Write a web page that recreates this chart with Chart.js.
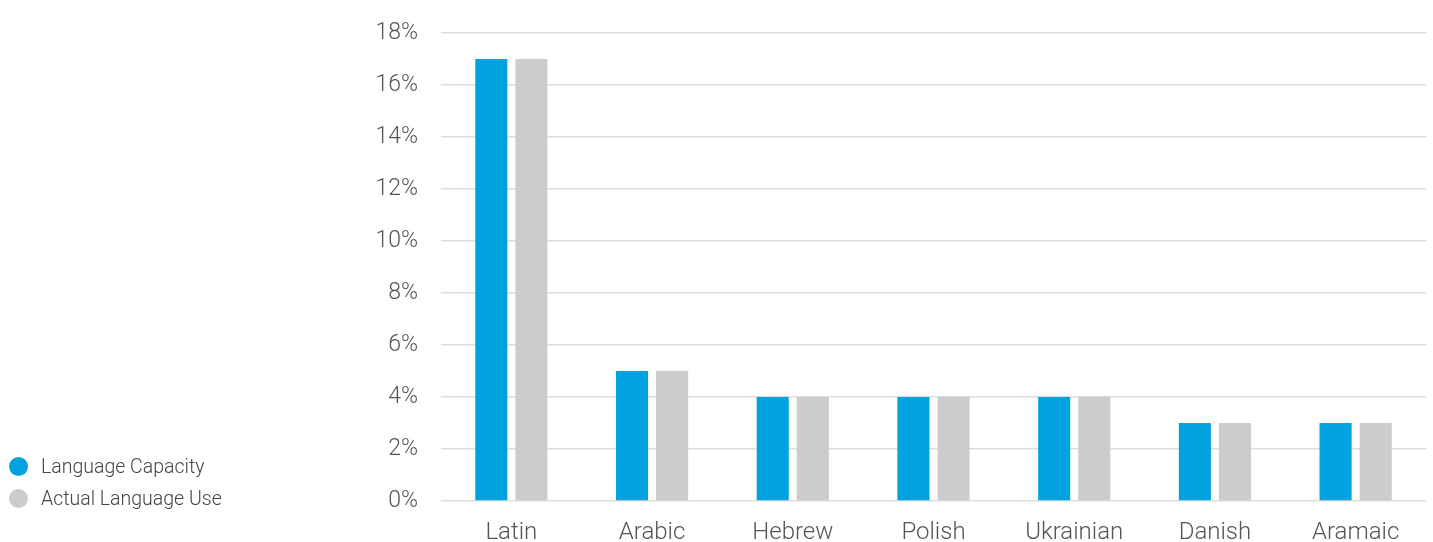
<!DOCTYPE html>
<html>
<head>
<meta charset="utf-8">
<script src="https://cdn.jsdelivr.net/npm/chart.js@4"></script>
<style>
    html, body { margin: 0; padding: 0; background: #fff; }
    #wrap { position: relative; width: 1433px; height: 542px; }
    #legend { position: absolute; left: 9px; top: 450px; font-family: Roboto, "Open Sans", sans-serif; font-weight: 300; font-size: 19.5px; color: #444; }
    #legend div { display: flex; align-items: center; height: 32px; }
    #legend span.dot { width: 19px; height: 19px; border-radius: 50%; margin-right: 13px; display: inline-block; }
</style>
</head>
<body>
<div id="wrap">
    <canvas id="langChart" width="1433" height="542"></canvas>
    <div id="legend"></div>
</div>
<script>
// values
const languages = ['Latin', 'Arabic', 'Hebrew', 'Polish', 'Ukrainian', 'Danish', 'Aramaic'];
const capacity = [17, 5, 4, 4, 4, 3, 3];
const actualUse = [17, 5, 4, 4, 4, 3, 3];
const seriesNames = ['Language Capacity', 'Actual Language Use'];
const seriesColours = ['#00A3E0', '#CCCCCC'];

const fontFamily = 'Roboto, "Open Sans", sans-serif';

// legend kept outside the canvas so it can sit bottom-left
const legendDiv = document.getElementById('legend');
seriesNames.forEach((name, i) => {
    const row = document.createElement('div');
    row.innerHTML = `<span class="dot" style="background:${seriesColours[i]}"></span>${name}`;
    legendDiv.appendChild(row);
});

const ctx = document.getElementById('langChart').getContext('2d');
new Chart(ctx, {
    type: 'bar',
    data: {
        labels: languages,
        datasets: [
            {
                label: seriesNames[0],
                data: capacity,
                backgroundColor: seriesColours[0],
                categoryPercentage: 0.57,
                barPercentage: 0.8,
            },
            {
                label: seriesNames[1],
                data: actualUse,
                backgroundColor: seriesColours[1],
                categoryPercentage: 0.57,
                barPercentage: 0.8,
            },
        ],
    },
    options: {
        responsive: false,
        animation: false,
        layout: {
            padding: { top: 33, right: 7, bottom: 0, left: 0 },
        },
        scales: {
            x: {
                grid: { display: false },
                border: { display: false },
                ticks: {
                    color: '#555',
                    padding: 10,
                    font: { family: fontFamily, size: 24, weight: 300 },
                },
                afterFit: (scale) => { scale.height = 41; },
            },
            y: {
                min: 0,
                max: 18,
                border: { display: false },
                grid: { color: '#DDDDDD', lineWidth: 1.5, drawTicks: false },
                ticks: {
                    stepSize: 2,
                    padding: 23,
                    color: '#555',
                    font: { family: fontFamily, size: 23, weight: 300 },
                    callback: (v) => v + '%',
                },
                // fixed width so the plot starts where the original does; no extra label padding on top
                afterFit: (scale) => {
                    scale.width = 441;
                    scale.paddingTop = 0;
                    scale.paddingBottom = 0;
                },
            },
        },
        plugins: {
            legend: { display: false },
            tooltip: { enabled: false },
        },
    },
});
</script>
</body>
</html>
